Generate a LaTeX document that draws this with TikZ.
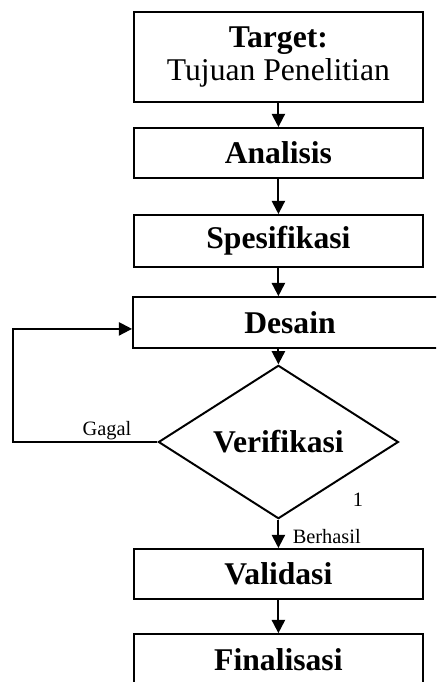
\documentclass[tikz,border=0pt]{standalone}
\usepackage{fontspec}
\setmainfont{Liberation Serif}
\usetikzlibrary{arrows.meta, shapes.geometric}

\begin{document}
\begin{tikzpicture}[
	blok/.style={draw, line width=1.4pt, minimum width=7.225cm, minimum height=1.27cm,
		inner sep=0pt, align=center, font=\fontsize{22.5}{24}\selectfont\bfseries},
	cek/.style={draw, diamond, line width=1.4pt, minimum width=6cm, minimum height=3cm,
		inner sep=0pt, font=\fontsize{22.5}{24}\selectfont\bfseries},
	lbl/.style={font=\fontsize{14.5}{16}\selectfont, inner sep=1pt},
	panah/.style={line width=1.4pt, -{Triangle[width=0.33cm,length=0.33cm]}}
]

	\useasboundingbox (0,0) rectangle (10.9,-17.05);
	\clip (0,0) rectangle (10.9,-17.05);

	\node[blok, minimum height=2.25cm] (target) at (6.96,-1.425)
		{Target:\\\mdseries Tujuan Penelitian};
	\node[blok, minimum height=1.25cm] (analisis) at (6.96,-3.825) {Analisis};
	\node[blok, minimum height=1.3cm] (spesifikasi) at (6.96,-6.025) {Spesifikasi};
	\node[blok, minimum width=7.85cm] (desain) at (7.25,-8.0625) {Desain};
	\node[cek] (verif) at (6.96,-11.05) {Verifikasi};
	\node[blok, minimum height=1.25cm] (validasi) at (6.96,-14.35) {Validasi};
	\node[blok] (finalisasi) at (6.96,-16.4875) {Finalisasi};

	\node[lbl] (satu) at (8.95,-12.5) {1};

	\draw[panah] (target) -- (analisis);
	\draw[panah] (analisis) -- (spesifikasi);
	\draw[panah] (spesifikasi) -- (spesifikasi |- desain.north);
	\draw[panah] (desain.south -| verif) -- (verif);
	\draw[panah] (verif) -- node[lbl, right=0.3cm, pos=0.6] (berhasil) {Berhasil} (validasi);
	\draw[panah] (validasi) -- (finalisasi);

	% kembali ke desain kalau gagal
	\draw[panah] (verif.west) -- node[lbl, above, pos=0.35] (gagal) {Gagal} ++(-3.6,0)
		|- ([yshift=-0.16cm]desain.west);

\end{tikzpicture}
\end{document}
